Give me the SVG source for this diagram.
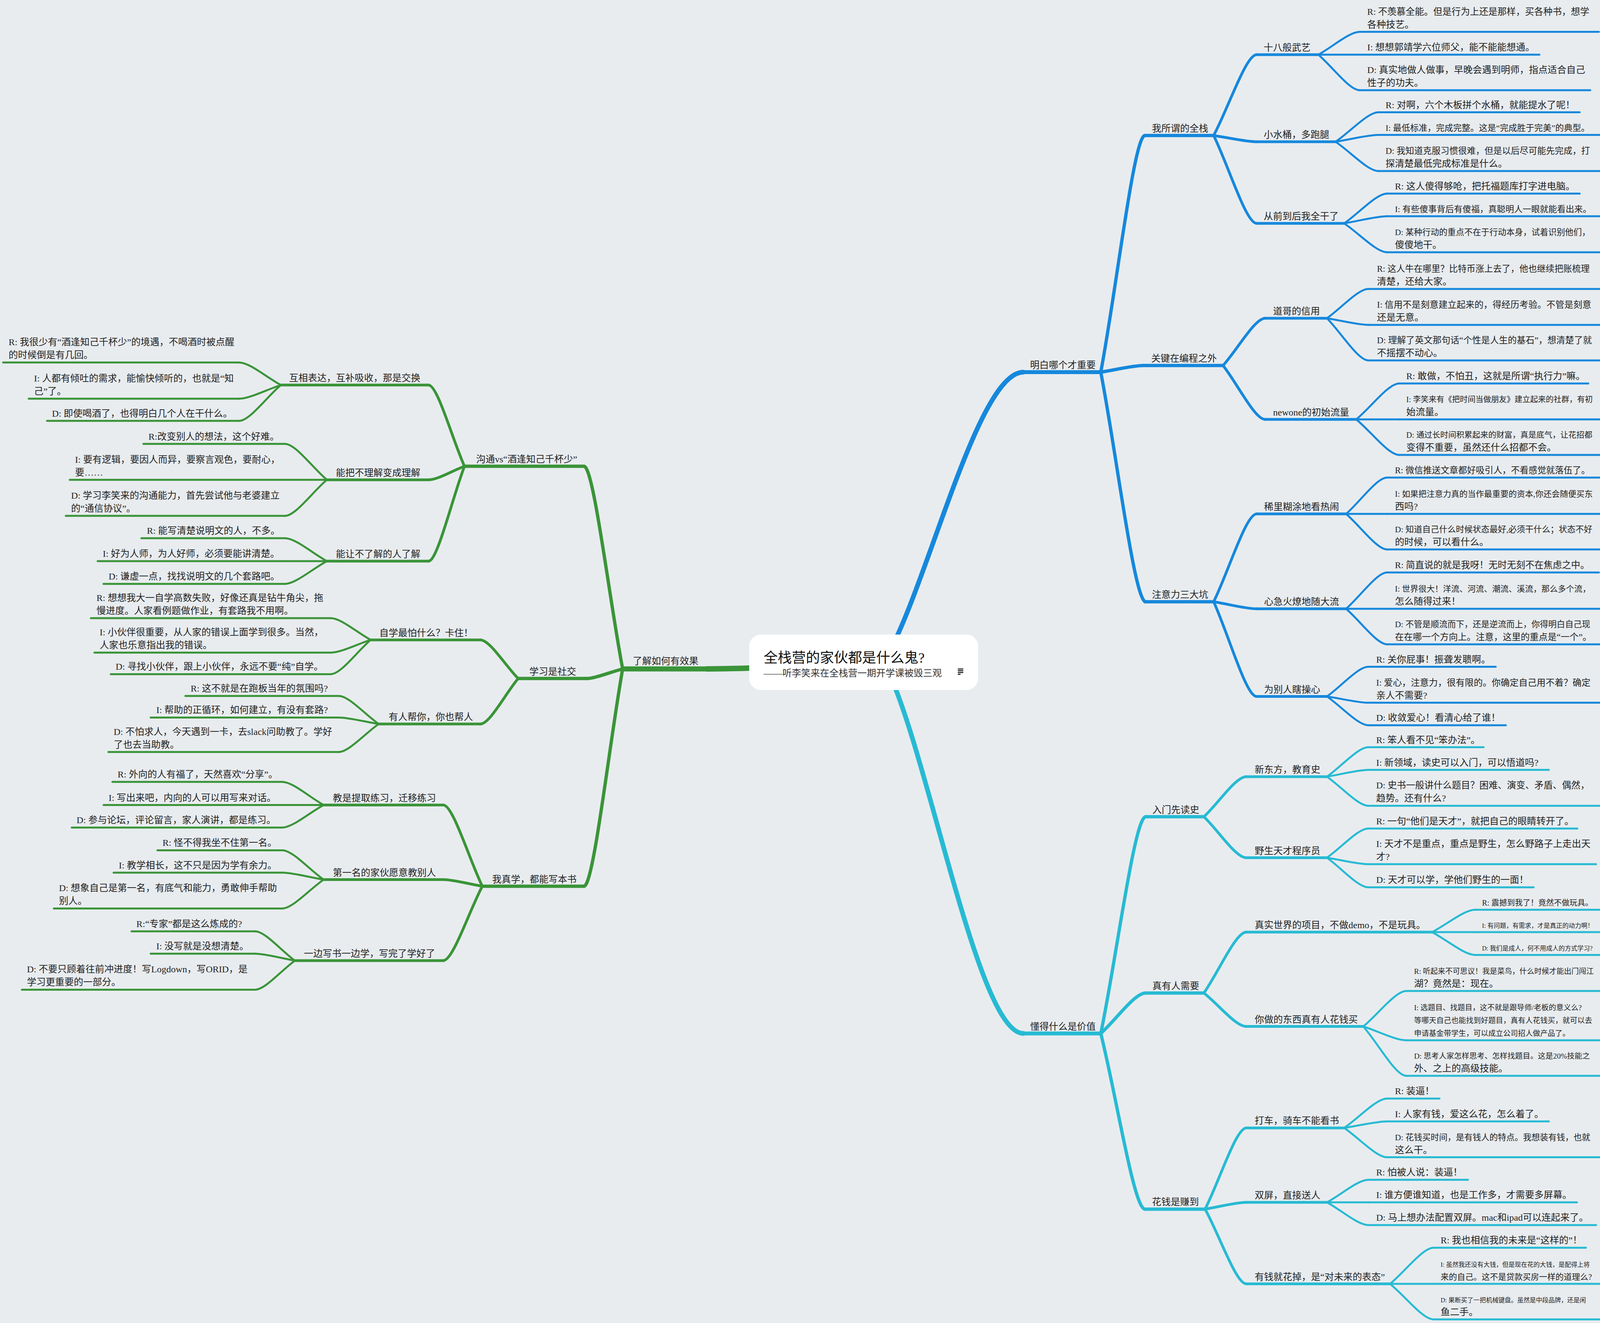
<svg xmlns="http://www.w3.org/2000/svg" width="4280" height="3388" viewBox="0 0 4280 3388">
<style>
.t{font-family:"Liberation Serif","Noto Sans CJK SC",serif;font-size:24px;fill:#222}
.ln{fill:none;stroke-linecap:round;stroke-linejoin:round}
.B{stroke:#1688dc}.C{stroke:#27bad3}.G{stroke:#3a9438}
.w0{stroke-width:12}.wg{stroke-width:14}.w1{stroke-width:10}.w1g{stroke-width:13}.w2{stroke-width:8.5}.w3{stroke-width:7}.w4{stroke-width:5}
</style>
<rect width="4280" height="3388" fill="#e8ecef"/>
<g id="connectors">
<path class="ln B w0" d="M2262,1696 C2370,1520 2500,953 2620,953"/>
<path class="ln C w0" d="M2262,1696 C2370,1890 2500,2646.5 2620,2646.5"/>
<path class="ln G wg" d="M2211,1700 C2050,1703 1950,1713 1810,1713"/>
<g class="ln B w2">
<path d="M2818,953 C2858,741 2903,347 2931,347"/>
<path d="M2818,953 C2856,947 2900,936 2927,936"/>
<path d="M2818,953 C2858,1159 2904,1541 2933,1541"/>
</g>
<g class="ln B w3">
<path d="M3107,347 C3145.5,274.5 3189.5,140 3217,140"/>
<path d="M3107,347 C3145.5,352.6 3189.5,363 3217,363"/>
<path d="M3107,347 C3145.5,425.8 3189.5,572 3217,572"/>
<path d="M3131,936 C3168.8,893.7 3212,815 3239,815"/>
<path d="M3131,936 C3168.8,984.3 3212,1074 3239,1074"/>
<path d="M3107,1541 C3145.5,1462.3 3189.5,1316 3217,1316"/>
<path d="M3107,1541 C3145.5,1547.3 3189.5,1559 3217,1559"/>
<path d="M3107,1541 C3145.5,1625.9 3189.5,1783.5 3217,1783.5"/>
</g>
<g class="ln B w4">
<path d="M3375,140 C3412,119.5 3454.5,81.5 3481,81.5"/>
<path d="M3375,140 H3481"/>
<path d="M3375,140 C3412,172 3454.5,231 3481,231"/>
<path d="M3419,363 C3457.5,336.6 3501.5,287.5 3529,287.5"/>
<path d="M3419,363 C3457.5,357 3501.5,345.6 3529,345.6"/>
<path d="M3419,363 C3457.5,389 3501.5,438 3529,438"/>
<path d="M3441,572 C3479.5,545.3 3523.5,495.7 3551,495.7"/>
<path d="M3441,572 C3479.5,565.6 3523.5,553.8 3551,553.8"/>
<path d="M3441,572 C3479.5,597.9 3523.5,646 3551,646"/>
<path d="M3397,815 C3434,788.8 3476.5,740 3503,740"/>
<path d="M3397,815 C3434,821 3476.5,832 3503,832"/>
<path d="M3397,815 C3434,852.8 3476.5,923 3503,923"/>
<path d="M3472,1074 C3510.5,1041.8 3554.5,982 3582,982"/>
<path d="M3472,1074 H3582"/>
<path d="M3472,1074 C3510.5,1105.9 3554.5,1165 3582,1165"/>
<path d="M3446,1316 C3482.8,1283.5 3524.8,1223 3551,1223"/>
<path d="M3446,1316 H3551"/>
<path d="M3446,1316 C3482.8,1347.9 3524.8,1407 3551,1407"/>
<path d="M3446,1559 C3482.8,1526.5 3524.8,1466 3551,1466"/>
<path d="M3446,1559 H3551"/>
<path d="M3446,1559 C3482.8,1590.9 3524.8,1650 3551,1650"/>
<path d="M3397,1783.5 C3434.1,1756.9 3476.5,1707.6 3503,1707.6"/>
<path d="M3397,1783.5 C3434.1,1789.1 3476.5,1799.6 3503,1799.6"/>
<path d="M3397,1783.5 C3434.1,1809.3 3476.5,1857.2 3503,1857.2"/>
</g>
<g class="ln C w2">
<path d="M2818,2646.5 C2858.3,2452.3 2904.3,2091.6 2933,2091.6"/>
<path d="M2818,2646.5 C2858.3,2610.3 2904.3,2543 2933,2543"/>
<path d="M2818,2646.5 C2857.6,2804 2902.8,3096.4 2931,3096.4"/>
</g>
<g class="ln C w3">
<path d="M3082,2091.6 C3120,2055.7 3163.4,1989 3190.5,1989"/>
<path d="M3082,2091.6 C3120,2128.3 3163.4,2196.5 3190.5,2196.5"/>
<path d="M3082,2543 C3120,2488.4 3163.4,2387 3190.5,2387"/>
<path d="M3082,2543 C3120,2573 3163.4,2628.6 3190.5,2628.6"/>
<path d="M3085,3096.4 C3122,3023.6 3164,2888.4 3190.5,2888.4"/>
<path d="M3085,3096.4 C3122,3090.3 3164,3079 3190.5,3079"/>
<path d="M3085,3096.4 C3122,3163.4 3164,3287.7 3190.5,3287.7"/>
</g>
<g class="ln C w4">
<path d="M3397,1989 C3434.1,1962.6 3476.5,1913.6 3503,1913.6"/>
<path d="M3397,1989 C3434.1,1982.9 3476.5,1971.6 3503,1971.6"/>
<path d="M3397,1989 C3434.1,2015 3476.5,2063.4 3503,2063.4"/>
<path d="M3397,2196.5 C3434.1,2170.3 3476.5,2121.7 3503,2121.7"/>
<path d="M3397,2196.5 C3434.1,2202.3 3476.5,2213 3503,2213"/>
<path d="M3397,2196.5 C3434.1,2223 3476.5,2272.3 3503,2272.3"/>
<path d="M3666,2387 C3704.5,2367 3748.5,2329.7 3776,2329.7"/>
<path d="M3666,2387 H3776"/>
<path d="M3666,2387 C3704.5,2407.4 3748.5,2445.4 3776,2445.4"/>
<path d="M3490,2628.6 C3528.5,2596.8 3572.5,2537.7 3600,2537.7"/>
<path d="M3490,2628.6 C3528.5,2641 3572.5,2664 3600,2664"/>
<path d="M3490,2628.6 C3528.5,2672.8 3572.5,2755 3600,2755"/>
<path d="M3441,2888.4 C3479.5,2862.1 3523.5,2813.2 3551,2813.2"/>
<path d="M3441,2888.4 C3479.5,2882.6 3523.5,2871.7 3551,2871.7"/>
<path d="M3441,2888.4 C3479.5,2914.7 3523.5,2963.6 3551,2963.6"/>
<path d="M3397,3079 C3434.1,3058.8 3476.5,3021.2 3503,3021.2"/>
<path d="M3397,3079 H3503"/>
<path d="M3397,3079 C3434.1,3099.4 3476.5,3137.2 3503,3137.2"/>
<path d="M3558.5,3287.7 C3597.5,3255.4 3642.1,3195.3 3670,3195.3"/>
<path d="M3558.5,3287.7 H3670"/>
<path d="M3558.5,3287.7 C3597.5,3319.6 3642.1,3378.7 3670,3378.7"/>
</g>
<g class="ln G w2">
<path d="M1594,1713 C1559.4,1531.4 1519.8,1194 1495,1194"/>
<path d="M1594,1713 C1561.1,1721.6 1523.5,1737.6 1500,1737.6"/>
<path d="M1594,1713 C1559.4,1907.8 1519.8,2269.5 1495,2269.5"/>
</g>
<g class="ln G w3">
<path d="M1189,1194 C1156.8,1121.2 1120,986 1097,986"/>
<path d="M1189,1194 C1156.8,1206.1 1120,1228.7 1097,1228.7"/>
<path d="M1189,1194 C1156.8,1279 1120,1437 1097,1437"/>
<path d="M1326.5,1737.6 C1292.6,1703 1253.8,1638.7 1229.6,1638.7"/>
<path d="M1326.5,1737.6 C1292.6,1778.3 1253.8,1854 1229.6,1854"/>
<path d="M1234.7,2269.5 C1199.7,2196.7 1159.7,2061.5 1134.7,2061.5"/>
<path d="M1234.7,2269.5 C1199.7,2263.6 1159.7,2252.5 1134.7,2252.5"/>
<path d="M1234.7,2269.5 C1199.7,2336.2 1159.7,2460 1134.7,2460"/>
</g>
<g class="ln G w4">
<path d="M719,986 C681.6,965.8 638.8,928.2 612,928.2"/>
<path d="M719,986 C681.6,998.3 638.8,1021 612,1021"/>
<path d="M719,986 C681.6,1018.1 638.8,1077.8 612,1077.8"/>
<path d="M836.7,1228.7 C799.2,1196.5 756.4,1136.7 729.6,1136.7"/>
<path d="M836.7,1228.7 H729.6"/>
<path d="M836.7,1228.7 C799.2,1261 756.4,1321 729.6,1321"/>
<path d="M836.7,1437 C799.2,1416.4 756.4,1378.2 729.6,1378.2"/>
<path d="M836.7,1437 H729.6"/>
<path d="M836.7,1437 C799.2,1457.4 756.4,1495.2 729.6,1495.2"/>
<path d="M949,1638.7 C913.3,1619.2 872.5,1583 847,1583"/>
<path d="M949,1638.7 C913.3,1650.1 872.5,1671.2 847,1671.2"/>
<path d="M949,1638.7 C913.3,1669.4 872.5,1726.4 847,1726.4"/>
<path d="M969.4,1854 C933.7,1828.9 892.8,1782.2 867.3,1782.2"/>
<path d="M969.4,1854 C933.7,1848.2 892.8,1837.4 867.3,1837.4"/>
<path d="M969.4,1854 C933.7,1879.1 892.8,1925.7 867.3,1925.7"/>
<path d="M828.6,2061.5 C791.4,2040.7 749,2002.2 722.4,2002.2"/>
<path d="M828.6,2061.5 H722.4"/>
<path d="M828.6,2061.5 C791.4,2081.7 749,2119.2 722.4,2119.2"/>
<path d="M828.6,2252.5 C791.4,2226.2 749,2177.4 722.4,2177.4"/>
<path d="M828.6,2252.5 C791.4,2246.3 749,2234.7 722.4,2234.7"/>
<path d="M828.6,2252.5 C791.4,2278.4 749,2326.4 722.4,2326.4"/>
<path d="M755,2460 C719.3,2433.8 678.5,2385 653,2385"/>
<path d="M755,2460 C719.3,2453.8 678.5,2442.3 653,2442.3"/>
<path d="M755,2460 C719.3,2486 678.5,2534.4 653,2534.4"/>
</g>
</g>

<!-- BLUE -->
<g id="b1"><path class="ln B w1" d="M2620,953 H2818"/><text class="t" x="2637" y="943">明白哪个才重要</text></g>
<g id="b1-1"><path class="ln B w2" d="M2931,347 H3107"/><text class="t" x="2949" y="337">我所谓的全栈</text></g>
<g id="b1-1-1"><path class="ln B w3" d="M3217,140 H3375"/><text class="t" x="3235" y="130">十八般武艺</text></g>
<g id="b1-1-1-r"><path class="ln B w4" d="M3481,81.5 H4093"/><text class="t" x="3500" y="37.5" style="font-size:23.5px">R: 不羡慕全能。但是行为上还是那样，买各种书，想学</text><text class="t" x="3500" y="70.5">各种技艺。</text></g>
<g id="b1-1-1-i"><path class="ln B w4" d="M3481,140 H3941"/><text class="t" x="3500" y="129">I: 想想郭靖学六位师父，能不能能想通。</text></g>
<g id="b1-1-1-d"><path class="ln B w4" d="M3481,231 H4071"/><text class="t"><tspan x="3500" y="187">D: 真实地做人做事，早晚会遇到明师，指点适合自己</tspan><tspan x="3500" y="220">性子的功夫。</tspan></text></g>
<g id="b1-1-2"><path class="ln B w3" d="M3217,363 H3419"/><text class="t" x="3235" y="353">小水桶，多跑腿</text></g>
<g id="b1-1-2-r"><path class="ln B w4" d="M3529,287.5 H4044"/><text class="t" x="3547" y="276.5">R: 对啊，六个木板拼个水桶，就能提水了呢！</text></g>
<g id="b1-1-2-i"><path class="ln B w4" d="M3529,345.6 H4130"/><text class="t" x="3547" y="334.6" style="font-size:22px">I: 最低标准，完成完整。这是“完成胜于完美”的典型。</text></g>
<g id="b1-1-2-d"><path class="ln B w4" d="M3529,438 H4119"/><text class="t" x="3547" y="394" style="font-size:22.5px">D: 我知道克服习惯很难，但是以后尽可能先完成，打</text><text class="t" x="3547" y="427">探清楚最低完成标准是什么。</text></g>
<g id="b1-1-3"><path class="ln B w3" d="M3217,572 H3441"/><text class="t" x="3235" y="562">从前到后我全干了</text></g>
<g id="b1-1-3-r"><path class="ln B w4" d="M3551,495.7 H4044"/><text class="t" x="3571" y="484.7">R: 这人傻得够呛，把托福题库打字进电脑。</text></g>
<g id="b1-1-3-i"><path class="ln B w4" d="M3551,553.8 H4132"/><text class="t" x="3571" y="542.8" style="font-size:22px">I: 有些傻事背后有傻福，真聪明人一眼就能看出来。</text></g>
<g id="b1-1-3-d"><path class="ln B w4" d="M3551,646 H4141"/><text class="t" x="3571" y="602" style="font-size:21.5px">D: 某种行动的重点不在于行动本身，试着识别他们，</text><text class="t" x="3571" y="635">傻傻地干。</text></g>
<g id="b1-2"><path class="ln B w2" d="M2927,936 H3131"/><text class="t" x="2947" y="926">关键在编程之外</text></g>
<g id="b1-2-1"><path class="ln B w3" d="M3239,815 H3397"/><text class="t" x="3259" y="805">道哥的信用</text></g>
<g id="b1-2-1-r"><path class="ln B w4" d="M3503,740 H4117"/><text class="t" x="3525" y="696" style="font-size:22.5px">R: 这人牛在哪里？比特币涨上去了，他也继续把账梳理</text><text class="t" x="3525" y="729">清楚，还给大家。</text></g>
<g id="b1-2-1-i"><path class="ln B w4" d="M3503,832 H4110"/><text class="t" x="3525" y="788" style="font-size:23px">I: 信用不是刻意建立起来的，得经历考验。不管是刻意</text><text class="t" x="3525" y="821">还是无意。</text></g>
<g id="b1-2-1-d"><path class="ln B w4" d="M3503,923 H4115"/><text class="t" x="3525" y="879" style="font-size:22.8px">D: 理解了英文那句话“个性是人生的基石”，想清楚了就</text><text class="t" x="3525" y="912">不摇摆不动心。</text></g>
<g id="b1-2-2"><path class="ln B w3" d="M3239,1074 H3472"/><text class="t" x="3259" y="1064">newone的初始流量</text></g>
<g id="b1-2-2-r"><path class="ln B w4" d="M3582,982 H4066"/><text class="t" x="3600" y="971">R: 敢做，不怕丑，这就是所谓“执行力”嘛。</text></g>
<g id="b1-2-2-i"><path class="ln B w4" d="M3582,1074 H4185"/><text class="t" x="3600" y="1030" style="font-size:20px">I: 李笑来有《把时间当做朋友》建立起来的社群，有初</text><text class="t" x="3600" y="1063">始流量。</text></g>
<g id="b1-2-2-d"><path class="ln B w4" d="M3582,1165 H4170"/><text class="t" x="3600" y="1121" style="font-size:20.5px">D: 通过长时间积累起来的财富，真是底气，让花招都</text><text class="t" x="3600" y="1154">变得不重要，虽然还什么招都不会。</text></g>
<g id="b1-3"><path class="ln B w2" d="M2931,1541 H3107"/><text class="t" x="2949" y="1531">注意力三大坑</text></g>
<g id="b1-3-1"><path class="ln B w3" d="M3217,1316 H3446"/><text class="t" x="3236" y="1306">稀里糊涂地看热闹</text></g>
<g id="b1-3-1-r"><path class="ln B w4" d="M3551,1223 H4117"/><text class="t" x="3571" y="1212" style="font-size:22.5px">R: 微信推送文章都好吸引人，不看感觉就落伍了。</text></g>
<g id="b1-3-1-i"><path class="ln B w4" d="M3551,1316 H4163"/><text class="t" x="3571" y="1272" style="font-size:21px">I: 如果把注意力真的当作最重要的资本,你还会随便买东</text><text class="t" x="3571" y="1305">西吗?</text></g>
<g id="b1-3-1-d"><path class="ln B w4" d="M3551,1407 H4148"/><text class="t" x="3571" y="1363" style="font-size:21.5px">D: 知道自己什么时候状态最好,必须干什么；状态不好</text><text class="t" x="3571" y="1396">的时候，可以看什么。</text></g>
<g id="b1-3-2"><path class="ln B w3" d="M3217,1559 H3446"/><text class="t" x="3236" y="1549">心急火燎地随大流</text></g>
<g id="b1-3-2-r"><path class="ln B w4" d="M3551,1466 H4093"/><text class="t" x="3571" y="1455" style="font-size:23.5px">R: 简直说的就是我呀！无时无刻不在焦虑之中。</text></g>
<g id="b1-3-2-i"><path class="ln B w4" d="M3551,1559 H4157"/><text class="t" x="3571" y="1515" style="font-size:21px">I: 世界很大！洋流、河流、潮流、溪流，那么多个流，</text><text class="t" x="3571" y="1548">怎么随得过来！</text></g>
<g id="b1-3-2-d"><path class="ln B w4" d="M3551,1650 H4143"/><text class="t" x="3571" y="1606" style="font-size:21.5px">D: 不管是顺流而下，还是逆流而上，你得明白自己现</text><text class="t" x="3571" y="1639" style="font-size:23px">在在哪一个方向上。注意，这里的重点是“一个”。</text></g>
<g id="b1-3-3"><path class="ln B w3" d="M3217,1783.5 H3397"/><text class="t" x="3236" y="1773.5">为别人瞎操心</text></g>
<g id="b1-3-3-r"><path class="ln B w4" d="M3503,1707.6 H3829"/><text class="t" x="3523" y="1696.6">R: 关你屁事！振聋发聩啊。</text></g>
<g id="b1-3-3-i"><path class="ln B w4" d="M3503,1799.6 H4108"/><text class="t" x="3523" y="1755.6" style="font-size:23px">I: 爱心，注意力，很有限的。你确定自己用不着？确定</text><text class="t" x="3523" y="1788.6">亲人不需要?</text></g>
<g id="b1-3-3-d"><path class="ln B w4" d="M3503,1857.2 H3855"/><text class="t" x="3523" y="1846.2">D: 收敛爱心！看清心给了谁！</text></g>

<!-- TEAL -->
<g id="c1"><path class="ln C w1" d="M2620,2646.5 H2818"/><text class="t" x="2637" y="2636.5">懂得什么是价值</text></g>
<g id="c1-1"><path class="ln C w2" d="M2933,2091.6 H3082"/><text class="t" x="2950" y="2081.6">入门先读史</text></g>
<g id="c1-1-1"><path class="ln C w3" d="M3190.5,1989 H3397"/><text class="t" x="3212" y="1979">新东方，教育史</text></g>
<g id="c1-1-1-r"><path class="ln C w4" d="M3503,1913.6 H3798"/><text class="t" x="3523" y="1902.6">R: 笨人看不见“笨办法”。</text></g>
<g id="c1-1-1-i"><path class="ln C w4" d="M3503,1971.6 H3965"/><text class="t" x="3523" y="1960.6">I: 新领域，读史可以入门，可以悟道吗?</text></g>
<g id="c1-1-1-d"><path class="ln C w4" d="M3503,2063.4 H4095"/><text class="t" x="3523" y="2019.4" style="font-size:23.5px">D: 史书一般讲什么题目？困难、演变、矛盾、偶然，</text><text class="t" x="3523" y="2052.4">趋势。还有什么?</text></g>
<g id="c1-1-2"><path class="ln C w3" d="M3190.5,2196.5 H3397"/><text class="t" x="3212" y="2186.5">野生天才程序员</text></g>
<g id="c1-1-2-r"><path class="ln C w4" d="M3503,2121.7 H4038"/><text class="t" x="3523" y="2110.7">R: 一句“他们是天才”，就把自己的眼睛转开了。</text></g>
<g id="c1-1-2-i"><path class="ln C w4" d="M3503,2213 H4086"/><text class="t"><tspan x="3523" y="2169">I: 天才不是重点，重点是野生，怎么野路子上走出天</tspan><tspan x="3523" y="2202">才?</tspan></text></g>
<g id="c1-1-2-d"><path class="ln C w4" d="M3503,2272.3 H3926"/><text class="t" x="3523" y="2261.3">D: 天才可以学，学他们野生的一面！</text></g>
<g id="c1-2"><path class="ln C w2" d="M2933,2543 H3082"/><text class="t" x="2950" y="2533">真有人需要</text></g>
<g id="c1-2-1"><path class="ln C w3" d="M3190.5,2387 H3666"/><text class="t" x="3212" y="2377">真实世界的项目，不做demo，不是玩具。</text></g>
<g id="c1-2-1-r"><path class="ln C w4" d="M3776,2329.7 H4147"/><text class="t" x="3794" y="2318.7" style="font-size:20px">R: 震撼到我了！竟然不做玩具。</text></g>
<g id="c1-2-1-i"><path class="ln C w4" d="M3776,2387 H4235"/><text class="t" x="3794" y="2376" style="font-size:16px">I: 有问题，有需求，才是真正的动力啊！</text></g>
<g id="c1-2-1-d"><path class="ln C w4" d="M3776,2445.4 H4244"/><text class="t" x="3794" y="2434.4" style="font-size:16px">D: 我们是成人，何不用成人的方式学习?</text></g>
<g id="c1-2-2"><path class="ln C w3" d="M3190.5,2628.6 H3490"/><text class="t" x="3212" y="2618.6">你做的东西真有人花钱买</text></g>
<g id="c1-2-2-r"><path class="ln C w4" d="M3600,2537.7 H4213"/><text class="t" x="3620" y="2493.7" style="font-size:19px">R: 听起来不可思议！我是菜鸟，什么时候才能出门闯江</text><text class="t" x="3620" y="2526.7">湖？竟然是：现在。</text></g>
<g id="c1-2-2-i"><path class="ln C w4" d="M3600,2664 H4209"/><text class="t" x="3620" y="2587" style="font-size:19px">I: 选题目、找题目，这不就是跟导师/老板的意义么?</text><text class="t" x="3620" y="2620" style="font-size:19px">等哪天自己也能找到好题目，真有人花钱买，就可以去</text><text class="t" x="3620" y="2653" style="font-size:19px">申请基金带学生，可以成立公司招人做产品了。</text></g>
<g id="c1-2-2-d"><path class="ln C w4" d="M3600,2755 H4187"/><text class="t" x="3620" y="2711" style="font-size:19.5px">D: 思考人家怎样思考、怎样找题目。这是20%技能之</text><text class="t" x="3620" y="2744">外、之上的高级技能。</text></g>
<g id="c1-3"><path class="ln C w2" d="M2931,3096.4 H3085"/><text class="t" x="2949" y="3086.4">花钱是赚到</text></g>
<g id="c1-3-1"><path class="ln C w3" d="M3190.5,2888.4 H3441"/><text class="t" x="3212" y="2878.4">打车，骑车不能看书</text></g>
<g id="c1-3-1-r"><path class="ln C w4" d="M3551,2813.2 H3685"/><text class="t" x="3571" y="2802.2">R: 装逼！</text></g>
<g id="c1-3-1-i"><path class="ln C w4" d="M3551,2871.7 H3965"/><text class="t" x="3571" y="2860.7">I: 人家有钱，爱这么花，怎么着了。</text></g>
<g id="c1-3-1-d"><path class="ln C w4" d="M3551,2963.6 H4143"/><text class="t" x="3571" y="2919.6" style="font-size:21.5px">D: 花钱买时间，是有钱人的特点。我想装有钱，也就</text><text class="t" x="3571" y="2952.6">这么干。</text></g>
<g id="c1-3-2"><path class="ln C w3" d="M3190.5,3079 H3397"/><text class="t" x="3212" y="3069">双屏，直接送人</text></g>
<g id="c1-3-2-r"><path class="ln C w4" d="M3503,3021.2 H3758"/><text class="t" x="3523" y="3010.2">R: 怕被人说：装逼！</text></g>
<g id="c1-3-2-i"><path class="ln C w4" d="M3503,3079 H4037"/><text class="t" x="3523" y="3068">I: 谁方便谁知道，也是工作多，才需要多屏幕。</text></g>
<g id="c1-3-2-d"><path class="ln C w4" d="M3503,3137.2 H4086"/><text class="t" x="3523" y="3126.2">D: 马上想办法配置双屏。mac和ipad可以连起来了。</text></g>
<g id="c1-3-3"><path class="ln C w3" d="M3190.5,3287.7 H3558.5"/><text class="t" x="3212" y="3277.7">有钱就花掉，是“对未来的表态”</text></g>
<g id="c1-3-3-r"><path class="ln C w4" d="M3670,3195.3 H4060"/><text class="t" x="3688" y="3184.3">R: 我也相信我的未来是“这样的”！</text></g>
<g id="c1-3-3-i"><path class="ln C w4" d="M3670,3287.7 H4273"/><text class="t" x="3688" y="3243.7" style="font-size:16px">I: 虽然我还没有大钱，但是现在花的大钱，是配得上将</text><text class="t" x="3688" y="3276.7" style="font-size:21px">来的自己。这不是贷款买房一样的道理么?</text></g>
<g id="c1-3-3-d"><path class="ln C w4" d="M3670,3378.7 H4260"/><text class="t" x="3688" y="3334.7" style="font-size:16px">D: 果断买了一把机械键盘。虽然是中段品牌，还是闲</text><text class="t" x="3688" y="3367.7">鱼二手。</text></g>

<!-- GREEN -->
<g id="g1"><path class="ln G w1g" d="M1594,1713 H1810"/><text class="t" x="1620" y="1701">了解如何有效果</text></g>
<g id="g1-1"><path class="ln G w2" d="M1189,1194 H1495"/><text class="t" x="1219" y="1184">沟通vs“酒逢知己千杯少”</text></g>
<g id="g1-1-1"><path class="ln G w3" d="M719,986 H1097"/><text class="t" x="740" y="976">互相表达，互补吸收，那是交换</text></g>
<g id="g1-1-1-r"><path class="ln G w4" d="M8,928.2 H612"/><text class="t"><tspan x="22" y="884.2">R: 我很少有“酒逢知己千杯少”的境遇，不喝酒时被点醒</tspan><tspan x="22" y="917.2">的时候倒是有几回。</tspan></text></g>
<g id="g1-1-1-i"><path class="ln G w4" d="M73.5,1021 H612"/><text class="t"><tspan x="87" y="977">I: 人都有倾吐的需求，能愉快倾听的，也就是“知</tspan><tspan x="87" y="1010">己”了。</tspan></text></g>
<g id="g1-1-1-d"><path class="ln G w4" d="M120.4,1077.8 H612"/><text class="t" x="133" y="1066.8">D: 即使喝酒了，也得明白几个人在干什么。</text></g>
<g id="g1-1-2"><path class="ln G w3" d="M836.7,1228.7 H1097"/><text class="t" x="860" y="1218.7">能把不理解变成理解</text></g>
<g id="g1-1-2-r"><path class="ln G w4" d="M367,1136.7 H729.6"/><text class="t" x="380" y="1125.7">R:改变别人的想法，这个好难。</text></g>
<g id="g1-1-2-i"><path class="ln G w4" d="M178.6,1228.7 H729.6"/><text class="t"><tspan x="192" y="1184.7">I: 要有逻辑，要因人而异，要察言观色，要耐心，</tspan><tspan x="192" y="1217.7">要……</tspan></text></g>
<g id="g1-1-2-d"><path class="ln G w4" d="M168.4,1321 H729.6"/><text class="t"><tspan x="182" y="1277">D: 学习李笑来的沟通能力，首先尝试他与老婆建立</tspan><tspan x="182" y="1310">的“通信协议”。</tspan></text></g>
<g id="g1-1-3"><path class="ln G w3" d="M836.7,1437 H1097"/><text class="t" x="860" y="1427">能让不了解的人了解</text></g>
<g id="g1-1-3-r"><path class="ln G w4" d="M362,1378.2 H729.6"/><text class="t" x="376" y="1367.2">R: 能写清楚说明文的人，不多。</text></g>
<g id="g1-1-3-i"><path class="ln G w4" d="M250,1437 H729.6"/><text class="t" x="263" y="1426">I: 好为人师，为人好师，必须要能讲清楚。</text></g>
<g id="g1-1-3-d"><path class="ln G w4" d="M265,1495.2 H729.6"/><text class="t" x="278" y="1484.2">D: 谦虚一点，找找说明文的几个套路吧。</text></g>
<g id="g1-2"><path class="ln G w2" d="M1326.5,1737.6 H1500"/><text class="t" x="1355" y="1727.6">学习是社交</text></g>
<g id="g1-2-1"><path class="ln G w3" d="M949,1638.7 H1229.6"/><text class="t" x="971" y="1628.7">自学最怕什么？卡住！</text></g>
<g id="g1-2-1-r"><path class="ln G w4" d="M232.7,1583 H847"/><text class="t"><tspan x="247" y="1539">R: 想想我大一自学高数失败，好像还真是钻牛角尖，拖</tspan><tspan x="247" y="1572">慢进度。人家看例题做作业，有套路我不用啊。</tspan></text></g>
<g id="g1-2-1-i"><path class="ln G w4" d="M241.8,1671.2 H847"/><text class="t"><tspan x="255" y="1627.2">I: 小伙伴很重要，从人家的错误上面学到很多。当然，</tspan><tspan x="255" y="1660.2">人家也乐意指出我的错误。</tspan></text></g>
<g id="g1-2-1-d"><path class="ln G w4" d="M283.7,1726.4 H847"/><text class="t" x="296" y="1715.4">D: 寻找小伙伴，跟上小伙伴，永远不要“纯”自学。</text></g>
<g id="g1-2-2"><path class="ln G w3" d="M969.4,1854 H1229.6"/><text class="t" x="995" y="1844">有人帮你，你也帮人</text></g>
<g id="g1-2-2-r"><path class="ln G w4" d="M474.5,1782.2 H867.3"/><text class="t" x="488" y="1771.2">R: 这不就是在跑板当年的氛围吗?</text></g>
<g id="g1-2-2-i"><path class="ln G w4" d="M385.7,1837.4 H867.3"/><text class="t" x="400" y="1826.4">I: 帮助的正循环，如何建立，有没有套路?</text></g>
<g id="g1-2-2-d"><path class="ln G w4" d="M277.6,1925.7 H867.3"/><text class="t"><tspan x="291" y="1881.7">D: 不怕求人，今天遇到一卡，去slack问助教了。学好</tspan><tspan x="291" y="1914.7">了也去当助教。</tspan></text></g>
<g id="g1-3"><path class="ln G w2" d="M1234.7,2269.5 H1495"/><text class="t" x="1260" y="2259.5">我真学，都能写本书</text></g>
<g id="g1-3-1"><path class="ln G w3" d="M828.6,2061.5 H1134.7"/><text class="t" x="852" y="2051.5">教是提取练习，迁移练习</text></g>
<g id="g1-3-1-r"><path class="ln G w4" d="M287.8,2002.2 H722.4"/><text class="t" x="301" y="1991.2">R: 外向的人有福了，天然喜欢“分享”。</text></g>
<g id="g1-3-1-i"><path class="ln G w4" d="M265.3,2061.5 H722.4"/><text class="t" x="278" y="2050.5">I: 写出来吧，内向的人可以用写来对话。</text></g>
<g id="g1-3-1-d"><path class="ln G w4" d="M183.7,2119.2 H722.4"/><text class="t" x="196" y="2108.2">D: 参与论坛，评论留言，家人演讲，都是练习。</text></g>
<g id="g1-3-2"><path class="ln G w3" d="M828.6,2252.5 H1134.7"/><text class="t" x="852" y="2242.5">第一名的家伙愿意教别人</text></g>
<g id="g1-3-2-r"><path class="ln G w4" d="M403,2177.4 H722.4"/><text class="t" x="416" y="2166.4">R: 怪不得我坐不住第一名。</text></g>
<g id="g1-3-2-i"><path class="ln G w4" d="M290.8,2234.7 H722.4"/><text class="t" x="304" y="2223.7">I: 教学相长，这不只是因为学有余力。</text></g>
<g id="g1-3-2-d"><path class="ln G w4" d="M137.8,2326.4 H722.4"/><text class="t"><tspan x="151" y="2282.4">D: 想象自己是第一名，有底气和能力，勇敢伸手帮助</tspan><tspan x="151" y="2315.4">别人。</tspan></text></g>
<g id="g1-3-3"><path class="ln G w3" d="M755,2460 H1134.7"/><text class="t" x="778" y="2450">一边写书一边学，写完了学好了</text></g>
<g id="g1-3-3-r"><path class="ln G w4" d="M336.7,2385 H653"/><text class="t" x="349" y="2374">R:“专家”都是这么炼成的?</text></g>
<g id="g1-3-3-i"><path class="ln G w4" d="M385.7,2442.3 H653"/><text class="t" x="400" y="2431.3">I: 没写就是没想清楚。</text></g>
<g id="g1-3-3-d"><path class="ln G w4" d="M56,2534.4 H653"/><text class="t"><tspan x="69" y="2490.4">D: 不要只顾着往前冲进度！写Logdown，写ORID，是</tspan><tspan x="69" y="2523.4">学习更重要的一部分。</tspan></text></g>

<!-- ROOT -->
<g id="root">
<rect x="1918" y="1625" width="586" height="142" rx="30" fill="#ffffff"/>
<text class="t" x="1955" y="1697" style="font-size:36px;fill:#111">全栈营的家伙都是什么鬼?</text>
<text class="t" x="1955" y="1732" style="fill:#333">——听李笑来在全栈营一期开学课被毁三观</text>
<g fill="#111"><rect x="2452" y="1712" width="14" height="2.5"/><rect x="2452" y="1716.5" width="14" height="2.5"/><rect x="2452" y="1721" width="14" height="2.5"/><rect x="2452" y="1725.5" width="7" height="2.5"/></g>
</g>
</svg>
